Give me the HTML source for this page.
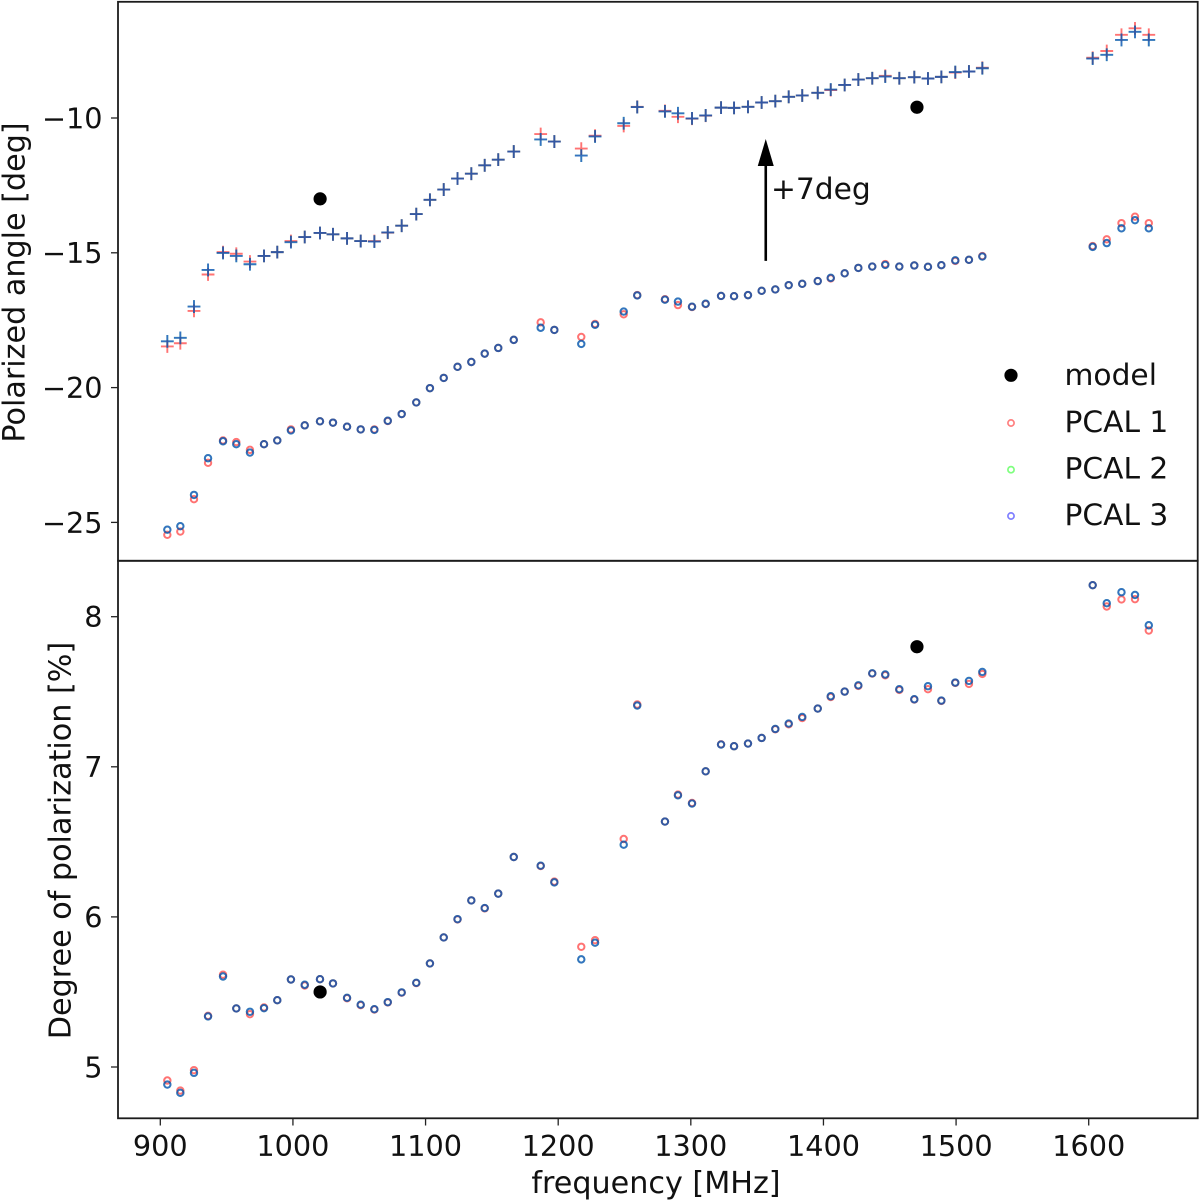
<!DOCTYPE html>
<html lang="en">
<head>
<meta charset="utf-8">
<title>Polarized angle and degree of polarization vs frequency</title>
<style>
html,body{margin:0;padding:0;background:#fff}
svg{display:block;width:1200px;height:1201px;font-family:"DejaVu Sans","Liberation Sans",sans-serif;fill:#000;filter:blur(0.35px)}
text{fill:#111}
.tick{font-size:28.7px}
.lab{font-size:30.2px}
.leg{font-size:29.7px}
</style>
</head>
<body>
<svg id="chart" xmlns="http://www.w3.org/2000/svg" width="1200" height="1201" viewBox="0 0 1200 1201">
  <rect x="0" y="0" width="1200" height="1201" fill="#fff"></rect>
  <g id="marks-angle"></g>
  <g id="marks-degree"></g>
  <rect x="118" y="1.8" width="1079.7" height="559" fill="none" stroke="#1c1c1c" stroke-width="1.8"></rect>
  <rect x="118" y="560.8" width="1079.7" height="557.5" fill="none" stroke="#1c1c1c" stroke-width="1.8"></rect>
  <g id="axes"></g>
  <text class="lab" x="656" y="1193" text-anchor="middle">frequency [MHz]</text>
  <text class="lab" transform="translate(24.5 282.5) rotate(-90)" text-anchor="middle">Polarized angle [deg]</text>
  <text class="lab" transform="translate(70.5 840.5) rotate(-90)" text-anchor="middle">Degree of polarization [%]</text>
  <g id="annotation">
    <text class="leg" x="771" y="199">+7deg</text>
  </g>
  <g>
    <circle cx="1011" cy="375.3" r="6.6" fill="#000"></circle>
    <text class="leg" x="1064.5" y="385">model</text>
    <circle cx="1011" cy="423" r="3.1" fill="none" stroke="#ff0000" stroke-opacity="0.5" stroke-width="1.7"></circle>
    <text class="leg" x="1064.5" y="431.8">PCAL 1</text>
    <circle cx="1011" cy="469.7" r="3.1" fill="none" stroke="#00ff00" stroke-opacity="0.5" stroke-width="1.7"></circle>
    <text class="leg" x="1064.5" y="478.4">PCAL 2</text>
    <circle cx="1011" cy="516" r="3.1" fill="none" stroke="#0000ff" stroke-opacity="0.5" stroke-width="1.7"></circle>
    <text class="leg" x="1064.5" y="525">PCAL 3</text>
  </g>
</svg>
<script>
const frequencies = [905.3,915.1,925.4,936,947.3,957.3,967.6,978.2,988.2,998.5,1008.9,1020.4,1030.2,1040.8,1051.1,1061.4,1071.5,1082,1093,1103.3,1113.7,1124.1,1134.5,1144.6,1154.8,1166.5,1186.8,1197.1,1217.4,1227.8,1249.4,1259.6,1280.5,1290.3,1300.9,1311.2,1322.8,1332.6,1343.1,1353.4,1363.7,1373.8,1384,1395.7,1405.5,1416,1426.3,1436.8,1446.6,1457.2,1468.5,1478.8,1488.9,1499.4,1509.7,1519.8,1603,1613.6,1624.7,1634.9,1645.3];
const anglePcal1 = [-25.46,-25.34,-24.14,-22.79,-21.96,-22.02,-22.31,-22.10,-21.96,-21.55,-21.40,-21.25,-21.30,-21.45,-21.55,-21.55,-21.24,-20.98,-20.55,-20.02,-19.64,-19.23,-19.05,-18.74,-18.53,-18.23,-17.58,-17.86,-18.12,-17.64,-17.28,-16.57,-16.72,-16.94,-17.01,-16.90,-16.60,-16.61,-16.57,-16.41,-16.36,-16.20,-16.15,-16.05,-15.95,-15.76,-15.56,-15.51,-15.42,-15.51,-15.47,-15.52,-15.46,-15.30,-15.26,-15.12,-14.75,-14.50,-13.90,-13.66,-13.90];
const anglePcal2 = [-25.27,-25.14,-23.98,-22.62,-21.99,-22.10,-22.41,-22.10,-21.96,-21.59,-21.40,-21.25,-21.30,-21.45,-21.55,-21.57,-21.23,-20.98,-20.55,-20.02,-19.64,-19.23,-19.05,-18.74,-18.53,-18.23,-17.78,-17.86,-18.38,-17.67,-17.18,-16.58,-16.74,-16.81,-17.00,-16.89,-16.60,-16.61,-16.57,-16.41,-16.36,-16.20,-16.15,-16.05,-15.93,-15.76,-15.56,-15.51,-15.45,-15.51,-15.47,-15.52,-15.46,-15.28,-15.26,-15.14,-14.78,-14.64,-14.09,-13.79,-14.09];
const anglePcal3 = [-25.27,-25.14,-23.98,-22.62,-21.99,-22.10,-22.41,-22.10,-21.96,-21.59,-21.40,-21.25,-21.30,-21.45,-21.55,-21.57,-21.23,-20.98,-20.55,-20.02,-19.64,-19.23,-19.05,-18.74,-18.53,-18.23,-17.78,-17.86,-18.38,-17.67,-17.18,-16.58,-16.74,-16.81,-17.00,-16.89,-16.60,-16.61,-16.57,-16.41,-16.36,-16.20,-16.15,-16.05,-15.93,-15.76,-15.56,-15.51,-15.45,-15.51,-15.47,-15.52,-15.46,-15.28,-15.26,-15.14,-14.78,-14.64,-14.09,-13.79,-14.09];
const degreePcal1 = [4.91,4.843,4.979,5.341,5.615,5.39,5.352,5.397,5.445,5.583,5.543,5.585,5.557,5.458,5.412,5.383,5.43,5.495,5.559,5.69,5.863,5.983,6.11,6.057,6.155,6.399,6.339,6.235,5.801,5.845,6.519,7.415,6.635,6.815,6.759,6.97,7.15,7.137,7.155,7.192,7.25,7.283,7.325,7.388,7.465,7.501,7.539,7.621,7.61,7.512,7.448,7.517,7.439,7.559,7.552,7.619,8.21,8.068,8.115,8.117,7.908];
const degreePcal2 = [4.883,4.828,4.961,5.337,5.603,5.39,5.368,5.392,5.445,5.583,5.548,5.585,5.557,5.461,5.415,5.385,5.432,5.497,5.561,5.69,5.863,5.985,6.11,6.059,6.155,6.399,6.341,6.23,5.717,5.828,6.481,7.408,6.635,6.81,6.755,6.97,7.148,7.137,7.155,7.192,7.252,7.288,7.332,7.388,7.47,7.501,7.543,7.623,7.615,7.517,7.45,7.537,7.441,7.561,7.572,7.632,8.21,8.09,8.163,8.145,7.943];
const degreePcal3 = [4.883,4.828,4.961,5.337,5.603,5.39,5.368,5.392,5.445,5.583,5.548,5.585,5.557,5.461,5.415,5.385,5.432,5.497,5.561,5.69,5.863,5.985,6.11,6.059,6.155,6.399,6.341,6.23,5.717,5.828,6.481,7.408,6.635,6.81,6.755,6.97,7.148,7.137,7.155,7.192,7.252,7.288,7.332,7.388,7.47,7.501,7.543,7.623,7.615,7.517,7.45,7.537,7.441,7.561,7.572,7.632,8.21,8.09,8.163,8.145,7.943];
const modelFrequencies = [1020.5,1470.5];
const modelAngle = [-13,-9.6];
const modelDegree = [5.5,7.8];
const angleShift = 7;
const xTicks = [900,1000,1100,1200,1300,1400,1500,1600];
const angleTicks = [-10,-15,-20,-25];
const degreeTicks = [8,7,6,5];
const arrowFrequency = 1356.5;
const arrowAngleRange = [-15.3,-10.78];

const NS = 'http://www.w3.org/2000/svg';
function xScale(f){ return 160.3 + (f - 900) * 1.3263; }
function yAngle(v){ return 118 + (-10 - v) * 26.96; }
function yDegree(v){ return 616.7 + (8 - v) * 150.1; }
function make(tag, parent){ const el = document.createElementNS(NS, tag); parent.appendChild(el); return el; }
function attrs(el, map){ for (const k in map) el.setAttribute(k, map[k]); return el; }

const anglePanel = document.getElementById('marks-angle');
const degreePanel = document.getElementById('marks-degree');
const axesGroup = document.getElementById('axes');
const annotation = document.getElementById('annotation');

const seriesColors = ['#ff0000','#00ff00','#0000ff'];
const angleSeries = [anglePcal1,anglePcal2,anglePcal3];
const degreeSeries = [degreePcal1,degreePcal2,degreePcal3];

function drawCircles(parent, values, yFn, color){
  values.forEach(function(v, i){
    const c = make('circle', parent);
    attrs(c, {cx: xScale(frequencies[i]), cy: yFn(v), r: 3.2, fill: 'none', stroke: color, 'stroke-opacity': 0.55, 'stroke-width': 2});
    
    
  });
}
function drawCrosses(parent, values, color){
  values.forEach(function(v, i){
    const x = xScale(frequencies[i]);
    const y = yAngle(v + angleShift) + 0.4;
    const p = make('path', parent);
    attrs(p, {d: 'M' + (x - 6.4) + ' ' + y + 'H' + (x + 6.4) + 'M' + x + ' ' + (y - 6.4) + 'V' + (y + 6.4), fill: 'none', stroke: color, 'stroke-opacity': 0.55, 'stroke-width': 1.9});
    
    
  });
}
seriesColors.forEach(function(color, s){
  drawCircles(anglePanel, angleSeries[s], yAngle, color);
});
seriesColors.forEach(function(color, s){
  drawCrosses(anglePanel, angleSeries[s], color);
});
seriesColors.forEach(function(color, s){
  drawCircles(degreePanel, degreeSeries[s], yDegree, color);
});
modelFrequencies.forEach(function(f, i){
  const a = make('circle', anglePanel);
  attrs(a, {cx: xScale(f), cy: yAngle(modelAngle[i]), r: 6.6, fill: '#000'});
  
  
  const d = make('circle', degreePanel);
  attrs(d, {cx: xScale(f), cy: yDegree(modelDegree[i]), r: 6.6, fill: '#000'});
  
  
});

xTicks.forEach(function(t){
  const x = xScale(t);
  const line = make('line', axesGroup);
  attrs(line, {x1: x, x2: x, y1: 1118.3, y2: 1125.5, stroke: '#222', 'stroke-width': 1.3});
  
  
  const label = make('text', axesGroup);
  attrs(label, {x: x, y: 1156, 'text-anchor': 'middle', class: 'tick'});
  
  
  label.textContent = String(t);
});
function yTicks(ticks, yFn, name){
  ticks.forEach(function(t){
    const y = yFn(t);
    const line = make('line', axesGroup);
    attrs(line, {x1: 111, x2: 118, y1: y, y2: y, stroke: '#222', 'stroke-width': 1.3});
    
    
    const label = make('text', axesGroup);
    attrs(label, {x: 102.5, y: y + 10.4, 'text-anchor': 'end', class: 'tick'});
    
    
    label.textContent = String(t).replace('-', '\u2212');
  });
}
yTicks(angleTicks, yAngle, 'angle-y');
yTicks(degreeTicks, yDegree, 'degree-y');

const ax = xScale(arrowFrequency);
const ay0 = yAngle(arrowAngleRange[0]);
const ay1 = yAngle(arrowAngleRange[1]);
const shaft = make('line', annotation);
attrs(shaft, {x1: ax, x2: ax, y1: ay0, y2: ay1 + 20, stroke: '#000', 'stroke-width': 2.6});


const head = make('polygon', annotation);
attrs(head, {points: ax + ',' + ay1 + ' ' + (ax - 8) + ',' + (ay1 + 27) + ' ' + (ax + 8) + ',' + (ay1 + 27), fill: '#000'});


</script>
</body>
</html>
